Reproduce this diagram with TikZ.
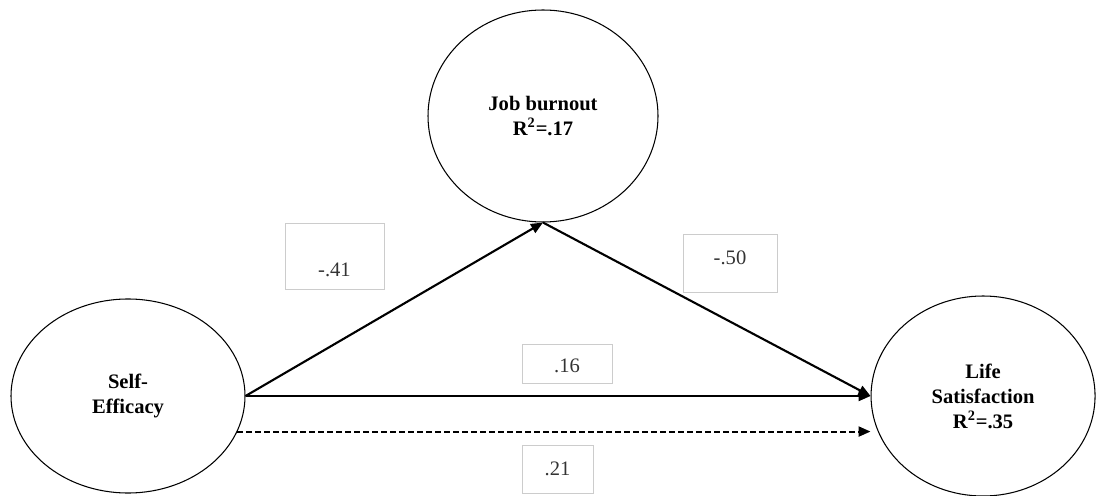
\documentclass[tikz,border=0pt]{standalone}
\usepackage{fontspec}
\setmainfont{Liberation Serif}
\usetikzlibrary{arrows.meta, positioning, shapes.geometric}

\begin{document}
\begin{tikzpicture}[
                latent/.style={ellipse, draw, line width=0.6pt, inner sep=0pt, align=center, font=\fontsize{11.7}{14.2}\selectfont\bfseries},
                coef/.style={rectangle, draw=black!20, line width=0.4pt, inner sep=0pt, font=\fontsize{11.7}{14}\selectfont, text=black!80},
                arrow/.style={-{Triangle[length=0.24cm, width=0.2cm]}, line width=1.2pt},
                node distance=12.5cm
            ]
                \useasboundingbox (0,0) rectangle (21.92,9.9);

                \node[latent, minimum width=4.68cm, minimum height=3.88cm] (se) at (2.56,1.98) {Self-\\Efficacy};
                \node[latent, minimum width=4.48cm, minimum height=4cm, right=of se] (ls) {Life\\Satisfaction\\R\textsuperscript{2}=.35};
                \node[latent, minimum width=4.6cm, minimum height=4.24cm] (jb) at (10.86,7.58) {Job burnout\\R\textsuperscript{2}=.17};

                \node[coef, minimum width=1.98cm, text height=1.08cm, text depth=0.24cm] (c1) at (6.69,4.78) {-.41};
                \node[coef, minimum width=1.88cm, text height=0.62cm, text depth=0.54cm] (c2) at (14.6,4.64) {-.50};
                \node[coef, minimum width=1.8cm, text height=0.56cm, text depth=0.22cm] (c3) at (11.34,2.63) {.16};
                \node[coef, minimum width=1.42cm, text height=0.6cm, text depth=0.36cm] (c4) at (11.15,0.52) {.21};

                \draw[arrow] (se.east) -- (jb.south);
                \draw[arrow] (jb.south) -- (ls.west);
                \draw[arrow] (se.east) -- (ls.west);
                \draw[arrow, dash pattern=on 0.12cm off 0.06cm] (se.-18) -- (se.-18 -| ls.west);
            \end{tikzpicture}
\end{document}
